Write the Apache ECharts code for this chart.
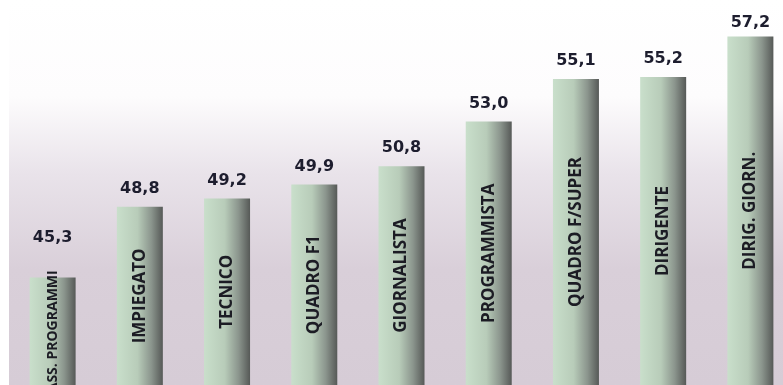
<!DOCTYPE html>
<html>
<head>
<meta charset="utf-8">
<script src="https://cdn.jsdelivr.net/npm/echarts@6/dist/echarts.min.js"></script>
<style>
  html, body { margin: 0; padding: 0; background: #fff; overflow: hidden; }
  #chart { width: 800px; height: 385px; }
</style>
</head>
<body>
<div id="chart"></div>
<script>
// categorie e valori
var categories = ['ASS. PROGRAMMI', 'IMPIEGATO', 'TECNICO', 'QUADRO F1', 'GIORNALISTA',
                  'PROGRAMMISTA', 'QUADRO F/SUPER', 'DIRIGENTE', 'DIRIG. GIORN.'];
var values = [45.3, 48.8, 49.2, 49.9, 50.8, 53.0, 55.1, 55.2, 57.2];

var chart = echarts.init(document.getElementById('chart'));

var barColor = new echarts.graphic.LinearGradient(0, 0, 1, 0, [
    { offset: 0, color: '#c9dfcb' },
    { offset: 0.45, color: '#b8ccb9' },
    { offset: 0.75, color: '#8b958d' },
    { offset: 1, color: '#565957' }
]);

var data = values.map(function (v, i) {
    return {
        value: v,
        label: {
            show: true,
            position: 'inside',
            rotate: 90,
            formatter: categories[i],
            fontFamily: 'Open Sans',
            fontWeight: 'bold',
            fontSize: i === 0 ? 14 : 17,
            color: '#1c1c24'
        }
    };
});

// la prima etichetta sta più in alto (sopra il testo che sporge)
var topData = values.map(function (v, i) {
    var d = 10;
    if (i === 0) d = 32;
    if (i === values.length - 1) d = 6;
    return { value: v, label: { distance: d } };
});

chart.setOption({
    animation: false,
    grid: {
        left: 9, top: 0, width: 785, height: 389,
        show: true, borderWidth: 0,
        backgroundColor: new echarts.graphic.LinearGradient(0, 0, 0, 1, [
            { offset: 0, color: '#ffffff' },
            { offset: 0.25, color: '#fdfcfd' },
            { offset: 0.45, color: '#e9e3ea' },
            { offset: 0.7, color: '#d9cfd9' },
            { offset: 1, color: '#d6ccd6' }
        ])
    },
    xAxis: {
        type: 'category',
        data: categories,
        axisLine: { show: false },
        axisTick: { show: false },
        axisLabel: { show: false }
    },
    yAxis: {
        type: 'value',
        min: 40, max: 59,
        show: false,
        splitLine: { show: false }
    },
    series: [{
        type: 'bar',
        data: data,
        barWidth: 46,
        itemStyle: { color: barColor }
    }, {
        // etichette valore sopra le barre
        type: 'bar',
        data: topData,
        barWidth: 46,
        barGap: '-100%',
        itemStyle: { color: 'transparent' },
        label: {
            show: true,
            position: 'top',
            distance: 10,
            formatter: function (p) { return p.value.toFixed(1).replace('.', ','); },
            fontFamily: 'DejaVu Sans',
            fontWeight: 'bold',
            fontSize: 16,
            color: '#1d1d2e'
        }
    }]
});
</script>
</body>
</html>
